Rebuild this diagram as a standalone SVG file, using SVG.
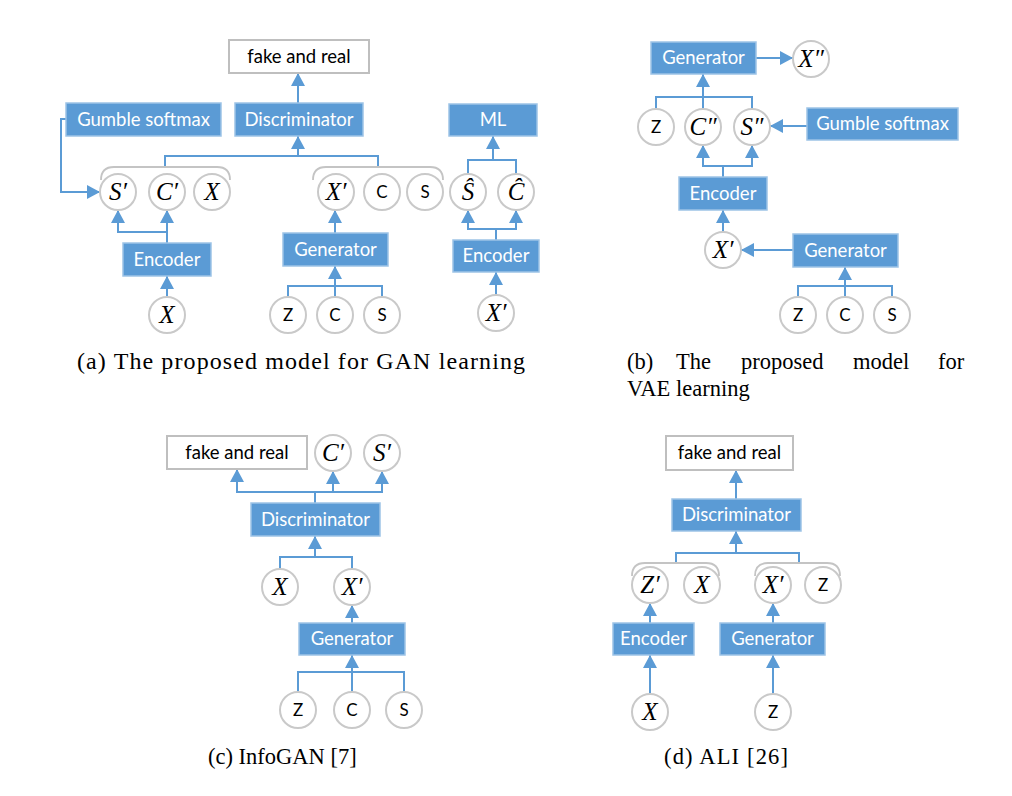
<svg xmlns="http://www.w3.org/2000/svg" width="1012" height="796" viewBox="0 0 1012 796">
<style>
.box{fill:#5b9bd5;stroke:#9dc3e6;stroke-width:1.5}
.wbox{fill:#ffffff;stroke:#bfbfbf;stroke-width:2}
.bl{font-family:Lato,"Liberation Sans",sans-serif;font-size:18.5px;fill:#ffffff;text-anchor:middle}
.wl{font-family:Lato,"Liberation Sans",sans-serif;font-size:18.5px;fill:#000000;text-anchor:middle}
.cir{fill:#ffffff;stroke:#c9c9c9;stroke-width:2}
.it{font-family:"Liberation Serif",serif;font-style:italic;font-size:25px;fill:#000000;text-anchor:middle}
.sl{font-family:Lato,"Liberation Sans",sans-serif;font-size:17px;fill:#000000;text-anchor:middle}
.con{fill:none;stroke:#5b9bd5;stroke-width:2}
.arr{fill:none;stroke:#5b9bd5;stroke-width:2;marker-end:url(#ah)}
.brk{fill:none;stroke:#c4c4c4;stroke-width:1.8}
.cap{font-family:"Liberation Serif",serif;font-size:22.5px;fill:#000000}
.capa{font-family:"Liberation Serif",serif;font-size:24px;fill:#000000}
</style>
<defs>
<marker id="ah" markerWidth="13" markerHeight="14" refX="13" refY="7" orient="auto" markerUnits="userSpaceOnUse">
<path d="M0,0 L13,7 L0,14 z" fill="#5b9bd5"/>
</marker>
</defs>
<rect width="1012" height="796" fill="#ffffff"/>

<g id="connectors">
<!-- panel a -->
<path class="arr" d="M298,103 V73"/>
<path class="con" d="M165,167 V156 H378 V167"/>
<path class="arr" d="M298,156 V136"/>
<path class="arr" d="M66,119 H61 V192 H100"/>
<path class="arr" d="M167,243 V210"/>
<path class="arr" d="M167,232 H118 V210"/>
<path class="arr" d="M167,297 V276"/>
<path class="arr" d="M335,233 V210"/>
<path class="con" d="M288,297 V286 H382 V297"/>
<path class="arr" d="M335,297 V266"/>
<path class="con" d="M468,174 V160 H516 V174"/>
<path class="arr" d="M493,160 V136"/>
<path class="con" d="M496,240 V229"/>
<path class="arr" d="M496,229 H468 V210"/>
<path class="arr" d="M496,229 H516 V210"/>
<path class="arr" d="M496,295 V272"/>
<!-- panel b -->
<path class="arr" d="M756,58 H793"/>
<path class="con" d="M656,109 V97 H752 V109"/>
<path class="arr" d="M703,109 V74"/>
<path class="arr" d="M807,126 H770"/>
<path class="con" d="M723,177 V166"/>
<path class="arr" d="M723,166 H703 V145"/>
<path class="arr" d="M723,166 H752 V145"/>
<path class="arr" d="M723,232 V210"/>
<path class="arr" d="M793,250 H741"/>
<path class="con" d="M798,297 V286 H892 V297"/>
<path class="arr" d="M845,297 V267"/>
<!-- panel c -->
<path class="con" d="M315,503 V492"/>
<path class="arr" d="M315,492 H237 V469"/>
<path class="arr" d="M315,492 H333 V471"/>
<path class="arr" d="M333,492 H382 V471"/>
<path class="con" d="M280,569 V557 H352 V569"/>
<path class="arr" d="M315,557 V536"/>
<path class="arr" d="M352,623 V605"/>
<path class="con" d="M298,692 V672 H404 V692"/>
<path class="arr" d="M352,692 V655"/>
<!-- panel d -->
<path class="arr" d="M736,499 V470"/>
<path class="con" d="M676,563 V553 H799 V563"/>
<path class="arr" d="M736,553 V531"/>
<path class="arr" d="M650,623 V603"/>
<path class="arr" d="M773,623 V603"/>
<path class="arr" d="M650,694 V655"/>
<path class="arr" d="M773,694 V655"/>
</g>

<g id="brackets">
<path class="brk" d="M101,180 Q101,167 114,167 H217 Q230,167 230,180"/>
<path class="brk" d="M313,180 Q313,167 326,167 H430 Q443,167 443,180"/>
<path class="brk" d="M632,576 Q632,563 645,563 H706 Q719,563 719,576"/>
<path class="brk" d="M755,576 Q755,563 768,563 H827 Q840,563 840,576"/>
</g>

<!-- panel a nodes -->
<g id="a_fake"><rect class="wbox" x="229" y="40" width="140" height="33"/><text class="wl" x="299" y="63">fake and real</text></g>
<g id="a_disc"><rect class="box" x="235" y="103" width="128" height="33"/><text class="bl" x="299" y="126">Discriminator</text></g>
<g id="a_gumble"><rect class="box" x="66" y="103" width="155" height="33"/><text class="bl" x="143.5" y="126">Gumble softmax</text></g>
<g id="a_enc"><rect class="box" x="123" y="243" width="88" height="33"/><text class="bl" x="167" y="266">Encoder</text></g>
<g id="a_gen"><rect class="box" x="283" y="233" width="105" height="33"/><text class="bl" x="335.5" y="256">Generator</text></g>
<g id="a_ml"><rect class="box" x="449" y="104" width="88" height="32"/><text class="bl" x="493" y="126">ML</text></g>
<g id="a_enc2"><rect class="box" x="453" y="240" width="86" height="32"/><text class="bl" x="496" y="262">Encoder</text></g>
<g id="a_s1"><circle class="cir" cx="118" cy="192" r="18"/><text class="it" x="118" y="200">S′</text></g>
<g id="a_c1"><circle class="cir" cx="167" cy="192" r="18"/><text class="it" x="167" y="200">C′</text></g>
<g id="a_x1"><circle class="cir" cx="212" cy="192" r="18"/><text class="it" x="212" y="200">X</text></g>
<g id="a_xp"><circle class="cir" cx="336" cy="192" r="18"/><text class="it" x="336" y="200">X′</text></g>
<g id="a_c2"><circle class="cir" cx="382" cy="192" r="18"/><text class="sl" x="382" y="198">C</text></g>
<g id="a_s2"><circle class="cir" cx="425" cy="192" r="18"/><text class="sl" x="425" y="198">S</text></g>
<g id="a_shat"><circle class="cir" cx="468" cy="192" r="18"/><text class="it" x="468" y="200">Ŝ</text></g>
<g id="a_chat"><circle class="cir" cx="516" cy="192" r="18"/><text class="it" x="516" y="200">Ĉ</text></g>
<g id="a_x2"><circle class="cir" cx="167" cy="315" r="18"/><text class="it" x="167" y="323">X</text></g>
<g id="a_z3"><circle class="cir" cx="288" cy="315" r="18"/><text class="sl" x="288" y="321">Z</text></g>
<g id="a_c3"><circle class="cir" cx="335" cy="315" r="18"/><text class="sl" x="335" y="321">C</text></g>
<g id="a_s3"><circle class="cir" cx="382" cy="315" r="18"/><text class="sl" x="382" y="321">S</text></g>
<g id="a_xp2"><circle class="cir" cx="496" cy="313" r="18"/><text class="it" x="496" y="321">X′</text></g>

<!-- panel b nodes -->
<g id="b_gen"><rect class="box" x="651" y="42" width="105" height="32"/><text class="bl" x="703.5" y="64">Generator</text></g>
<g id="b_gumble"><rect class="box" x="807" y="108" width="151" height="32"/><text class="bl" x="882.5" y="130">Gumble softmax</text></g>
<g id="b_enc"><rect class="box" x="679" y="177" width="88" height="33"/><text class="bl" x="723" y="200">Encoder</text></g>
<g id="b_gen2"><rect class="box" x="793" y="234" width="105" height="33"/><text class="bl" x="845.5" y="257">Generator</text></g>
<g id="b_xpp"><circle class="cir" cx="811" cy="59" r="18"/><text class="it" x="811" y="67">X″</text></g>
<g id="b_z"><circle class="cir" cx="656" cy="127" r="18"/><text class="sl" x="656" y="133">Z</text></g>
<g id="b_cpp"><circle class="cir" cx="703" cy="127" r="18"/><text class="it" x="703" y="135">C″</text></g>
<g id="b_spp"><circle class="cir" cx="752" cy="127" r="18"/><text class="it" x="752" y="135">S″</text></g>
<g id="b_xp"><circle class="cir" cx="723" cy="250" r="18"/><text class="it" x="723" y="258">X′</text></g>
<g id="b_z2"><circle class="cir" cx="798" cy="315" r="18"/><text class="sl" x="798" y="321">Z</text></g>
<g id="b_c2"><circle class="cir" cx="845" cy="315" r="18"/><text class="sl" x="845" y="321">C</text></g>
<g id="b_s2"><circle class="cir" cx="892" cy="315" r="18"/><text class="sl" x="892" y="321">S</text></g>

<!-- panel c nodes -->
<g id="c_fake"><rect class="wbox" x="167" y="436" width="140" height="33"/><text class="wl" x="237" y="459">fake and real</text></g>
<g id="c_disc"><rect class="box" x="251" y="503" width="129" height="33"/><text class="bl" x="315.5" y="526">Discriminator</text></g>
<g id="c_gen"><rect class="box" x="299" y="623" width="106" height="32"/><text class="bl" x="352" y="645">Generator</text></g>
<g id="c_cp"><circle class="cir" cx="333" cy="453" r="18"/><text class="it" x="333" y="461">C′</text></g>
<g id="c_sp"><circle class="cir" cx="382" cy="453" r="18"/><text class="it" x="382" y="461">S′</text></g>
<g id="c_x"><circle class="cir" cx="280" cy="587" r="18"/><text class="it" x="280" y="595">X</text></g>
<g id="c_xp"><circle class="cir" cx="352" cy="587" r="18"/><text class="it" x="352" y="595">X′</text></g>
<g id="c_z"><circle class="cir" cx="298" cy="710" r="18"/><text class="sl" x="298" y="716">Z</text></g>
<g id="c_c"><circle class="cir" cx="352" cy="710" r="18"/><text class="sl" x="352" y="716">C</text></g>
<g id="c_s"><circle class="cir" cx="404" cy="710" r="18"/><text class="sl" x="404" y="716">S</text></g>

<!-- panel d nodes -->
<g id="d_fake"><rect class="wbox" x="666" y="436" width="127" height="34"/><text class="wl" x="729.5" y="459">fake and real</text></g>
<g id="d_disc"><rect class="box" x="672" y="499" width="129" height="32"/><text class="bl" x="736.5" y="521">Discriminator</text></g>
<g id="d_enc"><rect class="box" x="613" y="623" width="81" height="32"/><text class="bl" x="653.5" y="645">Encoder</text></g>
<g id="d_gen"><rect class="box" x="720" y="623" width="105" height="32"/><text class="bl" x="772.5" y="645">Generator</text></g>
<g id="d_zp"><circle class="cir" cx="650" cy="585" r="18"/><text class="it" x="650" y="593">Z′</text></g>
<g id="d_x"><circle class="cir" cx="702" cy="585" r="18"/><text class="it" x="702" y="593">X</text></g>
<g id="d_xp"><circle class="cir" cx="773" cy="585" r="18"/><text class="it" x="773" y="593">X′</text></g>
<g id="d_z"><circle class="cir" cx="823" cy="585" r="18"/><text class="sl" x="823" y="591">Z</text></g>
<g id="d_x2"><circle class="cir" cx="650" cy="712" r="18"/><text class="it" x="650" y="720">X</text></g>
<g id="d_z2"><circle class="cir" cx="773" cy="712" r="18"/><text class="sl" x="773" y="718">Z</text></g>

<g id="captions">
<text class="capa" x="77" y="369" textLength="448" lengthAdjust="spacing">(a) The proposed model for GAN learning</text>
<text class="cap" y="369"><tspan x="627">(b)</tspan><tspan x="676">The</tspan><tspan x="741">proposed</tspan><tspan x="853">model</tspan><tspan x="938">for</tspan></text>
<text class="cap" x="627" y="396">VAE learning</text>
<text class="cap" x="208" y="764">(c) InfoGAN [7]</text>
<text class="cap" x="664" y="764" textLength="124" lengthAdjust="spacing">(d) ALI [26]</text>
</g>
</svg>
